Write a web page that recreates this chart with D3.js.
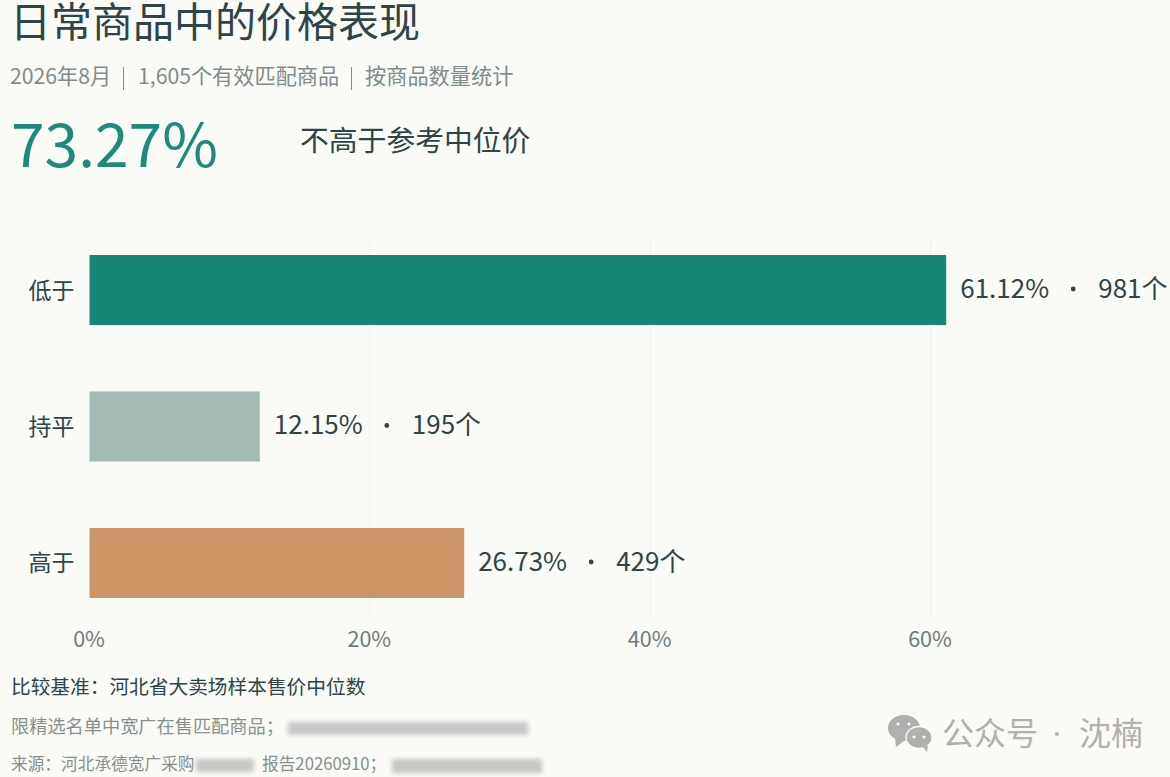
<!DOCTYPE html>
<html>
<head>
<meta charset="utf-8">
<script src="https://cdn.jsdelivr.net/npm/d3@7"></script>
<style>
  html, body { margin: 0; padding: 0; background: #fafaf6; }
  svg { display: block; }
  text { font-family: "Noto Sans CJK SC", "Noto Sans", sans-serif; }
</style>
</head>
<body>
<svg id="chart"></svg>
<script>
// data
const categories = ["低于", "持平", "高于"];
const shares = [61.12, 12.15, 26.73];
const counts = [981, 195, 429];
const barColors = ["#178577", "#a2bab3", "#cd9566"];
const xTicks = [0, 20, 40, 60];

const width = 1170;
const height = 777;

const svg = d3.select("#chart").attr("width", width).attr("height", height);

const defs = svg.append("defs");
defs.append("filter").attr("id", "blur").attr("x", "-10%").attr("y", "-50%").attr("width", "120%").attr("height", "200%")
  .append("feGaussianBlur").attr("stdDeviation", 2);

const inkDark = "#2f4448";
const inkMid = "#6c7c7d";
const inkSoft = "#7f8c8c";
const markGrey = "#b0b0ae";

// scales
const x = d3.scaleLinear().domain([0, 60]).range([89.5, 930.5]);
const y = d3.scaleBand().domain(categories).range([237, 616]).paddingInner(0.487).paddingOuter(0.132);

// gridlines
svg.append("g").selectAll("line").data(xTicks.slice(1)).enter().append("line")
  .attr("x1", d => x(d)).attr("x2", d => x(d))
  .attr("y1", 237).attr("y2", 616)
  .attr("stroke", "#f1f0ec").attr("stroke-width", 1);

// bars
svg.append("g").selectAll("rect").data(categories).enter().append("rect")
  .attr("x", x(0))
  .attr("y", d => y(d))
  .attr("width", (d, i) => x(shares[i]) - x(0))
  .attr("height", y.bandwidth())
  .attr("fill", (d, i) => barColors[i]);

// category labels
const yAxis = d3.axisLeft(y).tickSize(0).tickPadding(15);
const yG = svg.append("g").attr("transform", `translate(${x(0)},0)`).call(yAxis);
yG.select(".domain").remove();
yG.selectAll("text").attr("font-size", 23).attr("fill", inkDark).attr("dy", "0.37em")
  .style("font-family", '"Noto Sans CJK SC", sans-serif');

// x axis labels
const xAxis = d3.axisBottom(x).tickValues(xTicks).tickFormat(d => d + "%").tickSize(0).tickPadding(0);
const xG = svg.append("g").attr("transform", "translate(-1,632)").call(xAxis);
xG.select(".domain").remove();
xG.selectAll("text").attr("font-size", 21.5).attr("fill", inkMid)
  .style("font-family", '"Noto Sans CJK SC", sans-serif');

// value labels
const labels = svg.append("g").selectAll("g").data(categories).enter().append("g")
  .attr("transform", (d, i) => `translate(${x(shares[i])},${y(d) + y.bandwidth() / 2})`);
labels.append("text").attr("x", 14).attr("dy", "0.3em")
  .attr("font-size", 26).attr("fill", inkDark)
  .text((d, i) => shares[i].toFixed(2) + "%");
labels.append("circle").attr("cx", 127).attr("cy", -1).attr("r", 2.4).attr("fill", inkDark);
labels.append("text").attr("x", 152).attr("dy", "0.3em")
  .attr("font-size", 26).attr("fill", inkDark)
  .text((d, i) => counts[i] + "个");

// header
svg.append("text").attr("x", 10).attr("y", 37).attr("font-size", 41).attr("fill", inkDark).text("日常商品中的价格表现");
svg.append("text").attr("x", 10).attr("y", 84).attr("font-size", 21.2).attr("fill", inkSoft).text("2026年8月");
svg.append("text").attr("x", 138).attr("y", 84).attr("font-size", 21.2).attr("fill", inkSoft).text("1,605个有效匹配商品");
svg.append("text").attr("x", 365).attr("y", 84).attr("font-size", 21.2).attr("fill", inkSoft).text("按商品数量统计");
svg.append("g").selectAll("line").data([124, 352]).enter().append("line")
  .attr("x1", d => d - 0.5).attr("x2", d => d - 0.5).attr("y1", 67).attr("y2", 90)
  .attr("stroke", inkSoft).attr("stroke-width", 1);
svg.append("text").attr("x", 11).attr("y", 167).attr("font-size", 60.5).attr("fill", "#1d8a7b").text("73.27%");
svg.append("text").attr("x", 300).attr("y", 151).attr("font-size", 28.8).attr("fill", inkDark).text("不高于参考中位价");

// footer
svg.append("text").attr("x", 11).attr("y", 694).attr("font-size", 19.7).attr("fill", inkDark).text("比较基准：河北省大卖场样本售价中位数");
svg.append("text").attr("x", 11).attr("y", 733).attr("font-size", 18.2).attr("fill", "#85918f").text("限精选名单中宽广在售匹配商品；");
svg.append("text").attr("x", 11).attr("y", 770).attr("font-size", 16.7).attr("fill", "#85918f").text("来源：河北承德宽广采购");
svg.append("text").attr("x", 262).attr("y", 770).attr("font-size", 16.7).attr("fill", "#85918f").text("报告20260910；");

// blurred out parts of the footer
const smudges = svg.append("g").attr("filter", "url(#blur)").attr("fill", "#c4c8c6");
smudges.append("rect").attr("x", 288).attr("y", 722).attr("width", 240).attr("height", 13);
smudges.append("rect").attr("x", 196).attr("y", 759).attr("width", 58).attr("height", 13);
smudges.append("rect").attr("x", 392).attr("y", 759).attr("width", 150).attr("height", 14);

// watermark
const mark = svg.append("g").attr("fill", markGrey);
mark.append("ellipse").attr("cx", 904).attr("cy", 728).attr("rx", 16).attr("ry", 13);
mark.append("path").attr("d", "M895 738 l1 9 l8 -6 z");
mark.append("ellipse").attr("cx", 919).attr("cy", 737.5).attr("rx", 13).attr("ry", 11).attr("stroke", "#fafaf6").attr("stroke-width", 1.5);
mark.append("path").attr("d", "M923 747 l4 5 l1 -7 z");
svg.append("g").attr("fill", "#fafaf6").selectAll("circle").data([[898, 724], [909, 724], [914, 737], [924, 737]]).enter().append("circle")
  .attr("cx", d => d[0]).attr("cy", d => d[1]).attr("r", 1.5);
svg.append("text").attr("x", 942).attr("y", 745).attr("font-size", 32).attr("fill", markGrey).text("公众号");
svg.append("circle").attr("cx", 1057).attr("cy", 734).attr("r", 2).attr("fill", markGrey);
svg.append("text").attr("x", 1079).attr("y", 745).attr("font-size", 32).attr("fill", markGrey).text("沈楠");
</script>
</body>
</html>
